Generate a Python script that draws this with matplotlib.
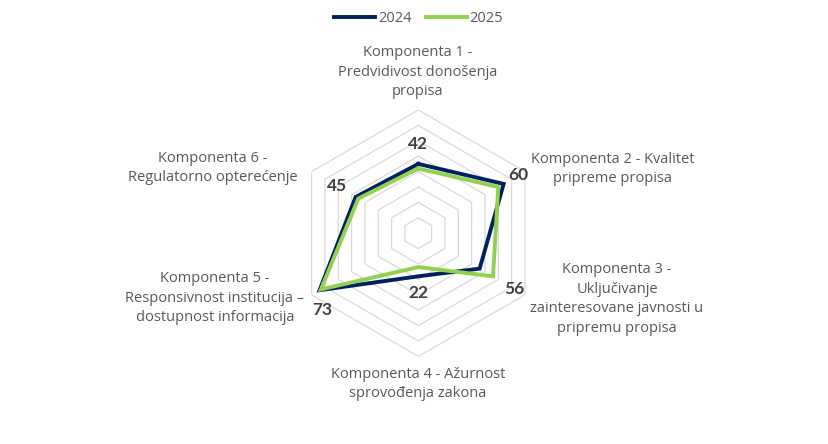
import matplotlib.pyplot as plt
import numpy as np

plt.rcParams['font.family'] = ['Open Sans', 'DejaVu Sans']

components = [
    'Komponenta 1 -\nPredvidivost donošenja\npropisa',
    'Komponenta 2 - Kvalitet\npripreme propisa',
    'Komponenta 3 -\nUključivanje\nzainteresovane javnosti u\npripremu propisa',
    'Komponenta 4 - Ažurnost\nsprovođenja zakona',
    'Komponenta 5 -\nResponsivnost institucija –\ndostupnost informacija',
    'Komponenta 6 -\nRegulatorno opterećenje',
]
vals_2024 = [45, 64, 46, 28, 74, 47]
vals_2025 = [42, 60, 56, 22, 73, 45]
series_names = ['2024', '2025']
colors = ['#002060', '#92D050']
rings = [10, 20, 30, 40, 50, 60, 70, 80]

W, H = 829, 444
fig = plt.figure(figsize=(W / 100, H / 100), dpi=100)

# polar axes placed so the center sits at ~(418, 233) px, r=80 -> 123 px
cx, cy, R = 418.3, 233.2, 123.2
ax = fig.add_axes([(cx - R) / W, (H - cy - R) / H, 2 * R / W, 2 * R / H], projection='polar')
ax.set_theta_offset(np.pi / 2)
ax.set_theta_direction(-1)
ax.set_ylim(0, 80)
ax.grid(False)
ax.spines['polar'].set_visible(False)
ax.set_xticks([])
ax.set_yticks([])
ax.patch.set_alpha(0)

n = len(components)
theta = np.linspace(0, 2 * np.pi, n, endpoint=False)
th_closed = np.append(theta, theta[0])

# hexagon grid
for r in rings:
    ax.plot(th_closed, [r] * (n + 1), color='#D9D9D9', lw=0.9, zorder=1)

for vals, c, name in zip([vals_2024, vals_2025], colors, series_names):
    ax.plot(th_closed, vals + vals[:1], color=c, lw=2.8, label=name,
            solid_joinstyle='miter', zorder=3)

# value labels (2025)
offsets = [(0, 25), (20, 12), (21, -13), (0, -26), (1, -21), (-21, 13)]
for t, v, off in zip(theta, vals_2025, offsets):
    ax.annotate(str(v), (t, v), xytext=off, textcoords='offset pixels',
                ha='center', va='center', fontsize=12.5, fontweight='bold',
                family=['Lato', 'DejaVu Sans'],
                color='#404040', annotation_clip=False)

# category labels
label_pos = [(418, 72), (613, 169), (617, 299), (418, 384), (215, 298), (213, 168)]
for txt, (x, y) in zip(components, label_pos):
    fig.text(x / W, 1 - y / H, txt, ha='center', va='center', fontsize=10.5,
             color='#595959', linespacing=1.42)

fig.legend(loc='upper center', bbox_to_anchor=(0.505, 1.005), ncol=2, frameon=False,
           fontsize=10.5, handlelength=2.8, handletextpad=0.2, columnspacing=1.0,
           labelcolor='#595959')

fig.savefig('out.png', dpi=100)
